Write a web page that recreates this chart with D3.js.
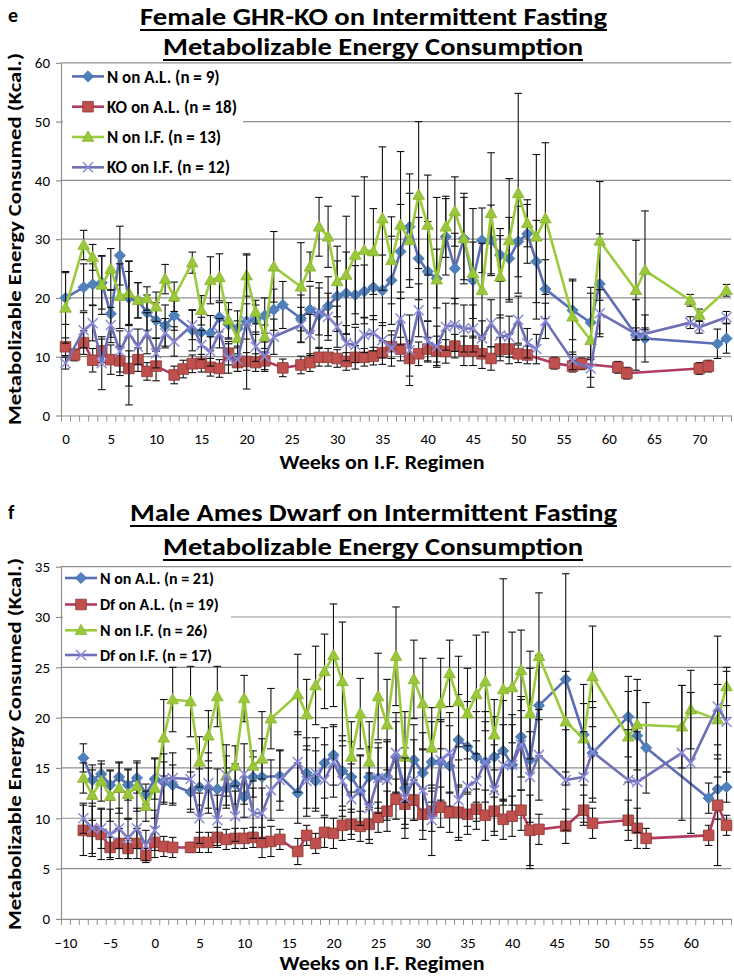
<!DOCTYPE html>
<html><head><meta charset="utf-8"><title>Metabolizable Energy Consumption</title>
<script src="https://cdn.jsdelivr.net/npm/d3@7/dist/d3.min.js"></script>
<style>html,body{margin:0;padding:0;background:#fff;} svg{display:block}</style>
</head><body>
<svg id="chart" width="734" height="976"></svg>
<script>
// ---------------- Panel e : Female GHR-KO ----------------
const topLegendLabels = ["N on A.L. (n = 9)", "KO on A.L. (n = 18)", "N on I.F. (n = 13)", "KO on I.F. (n = 12)"];
const topXTicks = [0,5,10,15,20,25,30,35,40,45,50,55,60,65,70];
const topYTicks = [0,10,20,30,40,50,60];

const topNALWeeks = [0,2,3,4,5,6,7,8,9,10,11,12, 14,15,16,17,18,19,20,21,22,23,24, 26,27,28,29,30,31,32,33,34,35,36,37,38,39,40,41,42,43,44,45,46,47,48,49,50,51,52,53, 56,58,59,63,64,72,73];
const topNALVals  = [20.0,21.8,22.3,22.6,17.3,27.2,20.0,19.6,17.5,16.2,15.3,17.0, 14.5,14.2,14.0,16.7,15.5,14.8,16.0,16.3,17.0,18.0,18.8, 16.5,18.0,17.1,18.6,20.3,20.8,20.5,21.1,21.8,21.3,23.0,27.9,32.1,26.7,24.5,23.3,30.4,25.0,30.1,23.0,29.8,29.8,27.3,26.7,29.6,30.9,26.2,21.5, 17.9,15.8,22.4,13.7,13.1,12.2,13.1];
const topNALErr   = [4.5,4.0,3.5,4.5,4.0,5.0,4.5,3.0,3.0,3.0,3.5,2.5, 3.5,2.5,3.0,2.5,2.5,3.0,3.0,2.5,3.0,3.5,4.0, 4.0,4.0,5.5,5.0,6.0,7.0,5.0,4.5,5.5,6.0,7.5,8.0,9.0,7.0,8.5,5.0,6.5,6.0,7.0,6.5,5.5,6.0,4.5,7.0,6.0,5.0,7.0,5.0, 5.0,6.0,8.5,6.0,4.0,2.5,2.5];

const topKOALWeeks = [0,1,2,3,4,5,6,7,8,9,10, 12,13,14,15,16,17,18,19,20,21,22, 24, 26,27,28,29,30,31,32,33,34,35,36,37,38,39,40,41,42,43,44,45,46,47,48,49,50,51, 54,56,57,61,62,70,71];
const topKOALVals  = [11.7,10.3,12.4,9.4,11.0,9.5,9.3,8.0,9.5,7.5,8.4, 6.9,7.9,8.8,8.9,8.2,8.0,10.6,9.0,9.2,9.0,9.3, 8.1, 8.6,9.0,9.9,9.9,9.7,9.2,9.9,9.9,10.1,10.7,11.7,11.3,9.7,10.5,11.3,11.0,10.9,11.8,11.0,11.0,10.5,9.7,11.3,11.3,10.5,10.3, 8.9,8.4,8.8,8.2,7.2,8.0,8.4];
const topKOALErr   = [1.5,1.0,2.0,2.0,2.0,2.5,2.5,3.0,2.0,1.5,2.5, 1.5,1.5,1.5,1.5,1.5,1.5,2.0,1.5,1.5,1.5,1.5, 1.5, 1.5,1.5,1.5,1.5,1.5,1.5,2.0,1.5,1.5,2.0,2.0,2.0,3.0,2.0,2.0,2.5,2.0,2.0,2.5,2.5,2.5,2.0,2.0,2.5,1.5,1.5, 1.0,1.0,1.0,1.0,1.0,1.0,1.0];

const topNIFWeeks = [0,2,3,4,5,6,7,8,9,10,11,12, 14,15,16,17,18,19,20,21,22,23, 26,27,28,29,30,31,32,33,34,35,36,37,38,39,40,41,42,43,44,45,46,47,48,49,50,51,52,53, 56,58,59,63,64,69,70,73];
const topNIFVals  = [18.3,29.0,26.9,22.2,24.9,20.3,20.8,19.6,19.9,18.5,23.2,20.2, 26.0,17.9,23.0,23.5,16.2,13.1,23.8,17.6,13.4,25.3, 21.9,25.3,32.1,30.4,22.8,23.9,27.3,28.1,27.9,33.5,26.4,32.4,29.8,37.5,32.4,23.1,32.1,34.7,30.1,24.2,21.3,34.4,23.6,29.8,37.8,32.7,30.4,33.5, 16.8,12.8,29.7,21.3,24.7,19.6,17.1,21.3];
const topNIFErr   = [6.0,2.5,2.2,5.0,3.5,5.5,5.5,3.0,2.0,2.5,2.5,2.5, 1.8,2.5,4.0,4.0,3.0,3.0,3.5,2.0,2.0,6.0, 7.5,2.5,5.0,5.2,6.0,10.0,10.0,12.5,7.3,12.2,7.4,12.5,8.0,12.5,8.5,14.0,5.2,5.9,7.7,11.0,8.0,10.3,7.0,10.5,17.0,4.0,14.0,12.9, 6.4,8.0,10.1,8.5,10.1,1.0,1.0,1.0];

const topKOIFWeeks = [0,2,3,4,5,6,7,8,9,10,11,12, 14,15,16,17,18,19,20,21,22,23, 26,27,28,29,30,31,32,33,34,35,36,37,38,39,40,41,42,43,44,45,46,47,48,49,50,51,52,53, 56,58,59,63,64,69,70,73];
const topKOIFVals  = [8.9,14.5,15.7,8.9,15.4,10.9,14.0,11.7,14.0,10.6,14.0,12.6, 15.4,12.0,10.9,14.0,9.7,9.5,16.0,11.7,10.0,13.4, 15.4,13.7,17.7,16.8,15.1,12.3,12.0,13.7,14.0,12.8,11.4,16.5,11.1,17.9,12.6,11.7,15.1,15.4,14.8,14.8,13.1,15.7,13.6,13.4,16.3,12.3,11.3,16.1, 9.3,8.0,17.4,13.9,13.9,15.8,15.0,16.7];
const topKOIFErr   = [1.0,3.0,3.0,4.5,3.0,3.5,12.2,3.0,3.5,2.5,2.5,2.5, 2.5,2.5,2.5,2.5,2.5,2.0,11.5,2.5,2.5,3.0, 3.0,3.5,4.0,4.0,3.5,3.0,3.0,3.0,3.0,3.0,3.0,4.5,6.0,4.5,3.5,3.5,4.0,4.5,4.0,4.0,3.0,4.0,3.5,3.5,4.0,2.5,2.5,3.0, 1.5,1.5,4.0,1.0,1.0,1.0,1.0,1.0];

// ---------------- Panel f : Male Ames Dwarf ----------------
const botLegendLabels = ["N on A.L. (n = 21)", "Df on A.L. (n = 19)", "N on I.F. (n = 26)", "Df on I.F. (n = 17)"];
const botXTicks = [-10,-5,0,5,10,15,20,25,30,35,40,45,50,55,60];
const botYTicks = [0,5,10,15,20,25,30,35];

const botNALWeeks = [-8,-7,-6,-5,-4,-3,-2,-1,0,1,2, 4,5,6,7,8,9,10,11,12, 14, 16,17,18,19,20,21,22,23,24,25,26,27,28,29,30,31,32,33,34,35,36,37,38,39,40,41,42,43, 46,48,49,53,54,55,62,63,64];
const botNALVals  = [16.0,13.8,14.4,13.3,14.1,13.3,14.0,12.4,13.9,13.6,13.3, 12.6,13.1,13.0,12.9,13.0,13.4,12.1,14.1,14.1, 14.2, 12.5,14.5,13.7,15.5,16.3,14.7,14.1,12.7,14.1,14.0,14.1,16.1,13.0,15.8,14.5,15.6,15.6,15.2,17.8,17.1,16.1,15.6,16.1,16.7,15.3,18.1,15.8,21.2, 23.8,18.3,16.5,20.1,18.2,17.0,12.0,12.9,13.1];
const botNALErr   = [1.4,1.5,1.0,1.5,1.5,1.5,1.5,1.0,2.0,2.0,2.0, 2.0,1.8,2.0,2.0,2.0,2.0,2.0,2.0,6.5, 2.5, 3.0,3.5,3.0,3.5,3.0,3.5,3.5,3.5,3.0,3.0,3.5,3.5,4.0,3.5,4.0,4.0,4.0,4.0,4.5,4.5,4.5,5.0,4.0,5.0,5.0,4.0,10.8,5.0, 10.5,5.0,4.5,4.0,4.5,4.5,1.5,3.0,1.5];

const botDfALWeeks = [-8,-7,-6,-5,-4,-3,-2,-1,0,1,2, 4,5,6,7,8,9,10,11,12,13,14, 16,17,18,19,20,21,22,23,24,25,26,27,28,29,30,31,32,33,34,35,36,37,38,39,40,41,42,43, 46,48,49,53,54,55,62,63,64];
const botDfALVals  = [8.8,8.7,8.4,7.1,7.5,7.0,7.5,6.3,7.6,7.2,7.1, 7.1,7.6,7.6,8.1,7.9,8.0,8.0,8.1,7.6,7.7,7.9, 6.7,8.3,7.5,8.6,8.5,9.3,9.4,9.2,9.4,10.1,10.7,11.9,11.4,11.8,10.4,10.7,11.1,10.6,10.6,10.4,10.9,10.3,10.7,9.9,10.2,10.8,8.8,8.9, 9.2,10.8,9.5,9.8,9.0,8.0,8.3,11.3,9.3];
const botDfALErr   = [2.5,2.5,2.5,1.0,1.5,1.0,1.5,0.7,1.5,1.0,1.0, 0.5,1.0,1.0,1.0,1.0,1.0,1.0,1.0,1.5,1.5,1.0, 1.3,1.0,1.0,1.5,1.5,1.5,1.5,1.5,1.5,1.5,2.0,2.0,2.0,2.0,2.5,2.0,2.0,2.0,2.5,2.0,2.0,2.5,2.0,2.0,2.0,2.0,3.5,1.5, 1.7,1.5,1.5,2.0,2.0,1.0,1.0,6.0,1.0];

const botNIFWeeks = [-8,-7,-6,-5,-4,-3,-2,-1,0,1,2, 4,5,6,7,8,9,10,11,12,13, 16,17,18,19,20,21,22,23,24,25,26,27,28,29,30,31,32,33,34,35,36,37,38,39,40,41,42,43, 46,48,49,53,54,59,60,63,64];
const botNIFVals  = [14.0,12.3,13.7,12.2,13.0,12.4,13.2,11.2,13.0,18.0,21.8, 21.6,15.6,18.2,22.1,14.2,15.2,21.9,15.2,15.9,19.9, 22.3,20.3,23.2,24.6,26.2,23.6,16.1,20.4,15.6,22.1,19.3,26.1,16.1,23.8,21.4,17.0,21.4,24.4,21.6,20.4,22.3,23.6,18.3,22.8,23.0,24.7,20.4,26.1, 19.6,17.9,24.1,18.1,19.3,19.1,20.8,19.8,23.1];
const botNIFErr   = [1.5,2.5,2.0,2.5,2.5,2.5,2.5,1.5,3.0,3.8,3.2, 3.5,2.5,2.5,3.0,2.0,2.0,2.3,1.5,2.0,3.0, 4.0,3.5,3.9,3.7,5.1,5.9,3.5,3.5,4.0,4.3,4.5,4.9,4.5,3.9,4.5,4.0,4.5,3.3,4.5,4.5,5.9,4.9,3.5,11.0,5.5,4.0,4.5,6.3, 5.0,3.5,5.0,4.5,4.5,4.1,3.9,3.5,1.9];

const botDfIFWeeks = [-8,-7,-6,-5,-4,-3,-2,-1,0,1,2, 4,5,6,7,8,9,10,11,12,13,14, 16,17,18,19,20,21,22,23,24,25,26,27,28,29,30,31,32,33,34,35,36,37,38,39,40,41,42,43, 46,48,49,53,54,59,60,63,64];
const botDfIFVals  = [10.0,9.0,9.0,8.4,9.0,8.0,9.0,7.3,8.8,13.9,14.0, 13.9,10.0,13.5,9.8,14.3,10.2,14.4,10.5,10.5,12.8,13.8, 15.6,13.7,14.5,13.8,15.6,13.7,11.9,12.8,11.0,14.0,13.8,16.5,12.0,13.8,12.8,9.8,15.8,16.5,11.8,13.2,13.7,15.6,12.8,15.3,15.3,17.3,14.1,16.3, 13.8,14.1,16.6,13.8,13.6,16.5,15.5,21.1,19.6];
const botDfIFErr   = [1.5,2.5,2.0,2.5,2.0,2.0,2.0,1.5,2.0,2.5,2.5, 3.0,2.5,3.0,2.5,3.0,2.5,3.0,2.5,2.5,3.0,3.0, 3.0,3.5,3.5,3.5,3.5,3.5,3.5,3.5,3.5,3.5,4.0,4.0,4.0,4.0,4.0,3.5,4.0,4.0,4.0,4.0,4.0,4.0,4.5,4.0,4.0,4.5,4.5,4.5, 5.0,4.5,5.0,5.0,5.0,6.7,7.0,7.0,5.0];

// ---------------- drawing ----------------
const FONT = "Carlito, Calibri, Lato, 'Open Sans', sans-serif";
const GRID = "#8f8f8f";
const svg = d3.select("#chart");
svg.append("rect").attr("width", 734).attr("height", 976).attr("fill", "#fff");

const STYLES = [
  {shape: "diamond",  fill: "#4F81BD", mstroke: "#3F6FA8", line: "#5B6EB5"},
  {shape: "square",   fill: "#C0504D", mstroke: "#8C3836", line: "#B23A5E"},
  {shape: "triangle", fill: "#9BC83A", mstroke: "#86B22C", line: "#9BCB3B"},
  {shape: "cross",    fill: "none",    mstroke: "#8B8BDB", line: "#6F6FB5"}
];
function markerPath(shape) {
  if (shape === "diamond") return "M0,-5.6L5.6,0L0,5.6L-5.6,0Z";
  if (shape === "square") return "M-5.3,-5.3H5.3V5.3H-5.3Z";
  if (shape === "triangle") return "M0,-6L5.8,4.3H-5.8Z";
  return "M-5,-5L5,5M-5,5L5,-5";
}
function drawMarker(sel, st) {
  sel.attr("d", markerPath(st.shape))
    .attr("fill", st.fill)
    .attr("stroke", st.mstroke)
    .attr("stroke-width", st.shape === "cross" ? 1.5 : 0.8);
}

function drawChart(o) {
  const g = svg.append("g");
  const x = d3.scaleLinear().domain(o.xDomain).range([o.left, o.right]);
  const y = d3.scaleLinear().domain([0, o.yMax]).range([o.bottom, o.top]);

  // gridlines
  g.append("g").selectAll("line").data(o.yTicks.filter(d => d > 0)).join("line")
    .attr("x1", o.left).attr("x2", o.right)
    .attr("y1", d => y(d)).attr("y2", d => y(d))
    .attr("stroke", GRID).attr("stroke-width", 1.2);

  // legend background
  g.append("rect").attr("x", o.legend.box[0]).attr("y", o.legend.box[1])
    .attr("width", o.legend.box[2]).attr("height", o.legend.box[3]).attr("fill", "#fff");

  // y axis
  const ya = g.append("g").attr("transform", `translate(${o.left},0)`)
    .call(d3.axisLeft(y).tickValues(o.yTicks).tickSize(5).tickSizeOuter(0).tickPadding(6));
  ya.select(".domain").attr("stroke", GRID).attr("stroke-width", 1.2);
  ya.selectAll(".tick line").attr("stroke", GRID).attr("stroke-width", 1.2);
  ya.selectAll("text").attr("font-family", FONT).attr("font-size", 15).attr("fill", "#000");

  // x axis (tick marks at category boundaries)
  const bounds = d3.range(o.xDomain[0], o.xDomain[1] + 0.01, 1);
  const xa = g.append("g").attr("transform", `translate(0,${o.bottom})`)
    .call(d3.axisBottom(x).tickValues(bounds).tickSize(6).tickSizeOuter(0).tickFormat(""));
  xa.select(".domain").attr("stroke", GRID).attr("stroke-width", 1.2);
  xa.selectAll(".tick line").attr("stroke", GRID).attr("stroke-width", 1);
  const xl = g.append("g").attr("transform", `translate(0,${o.bottom})`)
    .call(d3.axisBottom(x).tickValues(o.xTicks).tickSize(0).tickPadding(18));
  xl.select(".domain").remove();
  xl.selectAll("text").attr("font-family", FONT).attr("font-size", 15).attr("fill", "#000");

  // series
  o.series.forEach((s, i) => {
    const st = STYLES[i];
    const pts = s.weeks.map((w, k) => ({w: w, v: s.vals[k], e: s.errs[k]}));
    const sg = g.append("g");
    const eb = sg.append("g").attr("stroke", "#111").attr("stroke-width", 1.1);
    eb.selectAll("line.v").data(pts).join("line").attr("class", "v")
      .attr("x1", d => x(d.w)).attr("x2", d => x(d.w))
      .attr("y1", d => y(d.v + d.e)).attr("y2", d => y(Math.max(0, d.v - d.e)));
    eb.selectAll("line.t").data(pts).join("line").attr("class", "t")
      .attr("x1", d => x(d.w) - 3.8).attr("x2", d => x(d.w) + 3.8)
      .attr("y1", d => y(d.v + d.e)).attr("y2", d => y(d.v + d.e));
    eb.selectAll("line.b").data(pts).join("line").attr("class", "b")
      .attr("x1", d => x(d.w) - 3.8).attr("x2", d => x(d.w) + 3.8)
      .attr("y1", d => y(Math.max(0, d.v - d.e))).attr("y2", d => y(Math.max(0, d.v - d.e)));
    sg.append("path").datum(pts)
      .attr("fill", "none").attr("stroke", st.line).attr("stroke-width", 2.6)
      .attr("stroke-linejoin", "round")
      .attr("d", d3.line().x(d => x(d.w)).y(d => y(d.v)));
    sg.selectAll("path.m").data(pts).join("path").attr("class", "m")
      .attr("transform", d => `translate(${x(d.w)},${y(d.v)})`)
      .call(drawMarker, st);
  });

  // legend
  const L = o.legend;
  o.legendLabels.forEach((lab, i) => {
    const st = STYLES[i];
    const ly = L.ys[i];
    g.append("line").attr("x1", L.x0).attr("x2", L.x1).attr("y1", ly).attr("y2", ly)
      .attr("stroke", st.line).attr("stroke-width", 2.6);
    g.append("path").attr("transform", `translate(${(L.x0 + L.x1) / 2},${ly})`).call(drawMarker, st);
    g.append("text").attr("x", L.tx).attr("y", ly).attr("dy", "0.36em")
      .attr("font-family", FONT).attr("font-weight", "bold").attr("font-size", L.fs)
      .attr("fill", "#000").text(lab);
  });

  // panel letter
  g.append("text").attr("x", 8).attr("y", o.letterY).attr("font-family", FONT)
    .attr("font-weight", "bold").attr("font-size", 20).text(o.letter);

  // titles (underlined)
  o.titles.forEach(t => {
    g.append("text").attr("x", t.x0).attr("y", t.y)
      .attr("font-family", FONT).attr("font-weight", "bold").attr("font-size", 24)
      .attr("textLength", t.x1 - t.x0).attr("lengthAdjust", "spacingAndGlyphs")
      .text(t.text);
    g.append("line").attr("x1", t.x0).attr("x2", t.x1).attr("y1", t.y + 5).attr("y2", t.y + 5)
      .attr("stroke", "#000").attr("stroke-width", 2.2);
  });

  // y title
  g.append("text").attr("transform", `translate(20.5,${o.yTitleC}) rotate(-90)`)
    .attr("text-anchor", "middle").attr("font-family", FONT).attr("font-weight", "bold")
    .attr("font-size", 19).attr("textLength", 372).attr("lengthAdjust", "spacingAndGlyphs")
    .text("Metabolizable Energy Consumed (Kcal.)");

  // x title
  g.append("text").attr("x", 382).attr("y", o.xTitleY).attr("text-anchor", "middle")
    .attr("font-family", FONT).attr("font-weight", "bold").attr("font-size", 21)
    .attr("textLength", 205).attr("lengthAdjust", "spacingAndGlyphs")
    .text("Weeks on I.F. Regimen");
}

drawChart({
  left: 61, right: 731, top: 62.8, bottom: 415.5, yMax: 60,
  yTicks: topYTicks, xDomain: [-0.5, 73.5], xTicks: topXTicks,
  series: [
    {weeks: topNALWeeks, vals: topNALVals, errs: topNALErr},
    {weeks: topKOALWeeks, vals: topKOALVals, errs: topKOALErr},
    {weeks: topNIFWeeks, vals: topNIFVals, errs: topNIFErr},
    {weeks: topKOIFWeeks, vals: topKOIFVals, errs: topKOIFErr}
  ],
  legendLabels: topLegendLabels,
  legend: {box: [63, 64.5, 180, 114], x0: 72, x1: 104, tx: 107, ys: [76.4, 106.7, 137, 167.3], fs: 17},
  letter: "e", letterY: 22,
  titles: [
    {text: "Female GHR-KO on Intermittent Fasting", x0: 140, x1: 607, y: 25},
    {text: "Metabolizable Energy Consumption", x0: 163, x1: 583, y: 55}
  ],
  yTitleC: 239, xTitleY: 469
});

drawChart({
  left: 61, right: 731, top: 566.7, bottom: 918.9, yMax: 35,
  yTicks: botYTicks, xDomain: [-10.5, 64.5], xTicks: botXTicks,
  series: [
    {weeks: botNALWeeks, vals: botNALVals, errs: botNALErr},
    {weeks: botDfALWeeks, vals: botDfALVals, errs: botDfALErr},
    {weeks: botNIFWeeks, vals: botNIFVals, errs: botNIFErr},
    {weeks: botDfIFWeeks, vals: botDfIFVals, errs: botDfIFErr}
  ],
  legendLabels: botLegendLabels,
  legend: {box: [63, 568, 168, 96], x0: 65, x1: 97, tx: 100, ys: [578, 604.5, 630.3, 655], fs: 16},
  letter: "f", letterY: 519,
  titles: [
    {text: "Male Ames Dwarf on Intermittent Fasting", x0: 130, x1: 617, y: 521},
    {text: "Metabolizable Energy Consumption", x0: 163, x1: 583, y: 555}
  ],
  yTitleC: 744, xTitleY: 970
});
</script>
</body></html>
